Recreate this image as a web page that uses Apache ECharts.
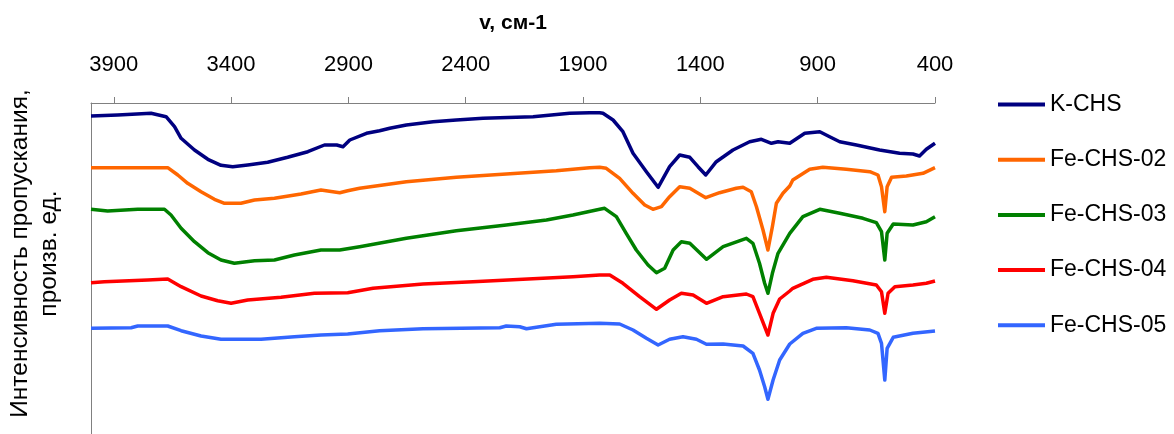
<!DOCTYPE html>
<html>
<head>
<meta charset="utf-8">
<script src="https://cdn.jsdelivr.net/npm/echarts@6/dist/echarts.min.js"></script>
<style>
  html, body { margin: 0; padding: 0; background: #fff; }
  #chart { width: 1174px; height: 434px; }
</style>
</head>
<body>
<div id="chart"></div>
<script>
// IR transmission spectra, offset vertically (arbitrary units)
const seriesNames = ['K-CHS', 'Fe-CHS-02', 'Fe-CHS-03', 'Fe-CHS-04', 'Fe-CHS-05'];
const seriesColors = ['#000080', '#FF6600', '#008000', '#FF0000', '#3366FF'];

const kchsWn = [3997, 3883, 3741, 3677, 3641, 3613, 3556, 3499, 3443, 3393, 3329, 3244, 3159, 3073, 3002, 2950, 2923, 2894, 2823, 2767, 2724, 2653, 2539, 2440, 2326, 2113, 1957, 1872, 1829, 1815, 1772, 1730, 1687, 1630, 1580, 1531, 1488, 1445, 1410, 1377, 1332, 1261, 1190, 1140, 1097, 1069, 1019, 955, 891, 849, 806, 735, 636, 551, 494, 466, 437, 400];
const kchsT = [318, 319, 320.7, 317.3, 307.3, 295.7, 284, 274.7, 268.7, 267.3, 269, 271.7, 276.7, 282.3, 289, 289, 287.3, 294, 300.7, 303.3, 305.7, 309, 312.3, 314, 315.7, 317.3, 320.7, 321.3, 321.3, 320.7, 314, 302.3, 280.7, 262.3, 246.7, 267.3, 279, 276.7, 267.3, 259, 272.3, 284, 292.3, 294.7, 290.7, 292.3, 290.7, 300.7, 302.3, 297.3, 292.3, 289, 284, 280.7, 280, 278, 284.7, 290.7];

const fe02Wn = [3997, 3670, 3627, 3585, 3528, 3471, 3428, 3358, 3300, 3215, 3102, 3017, 2937, 2903, 2852, 2653, 2440, 2227, 2014, 1872, 1829, 1801, 1744, 1687, 1637, 1602, 1566, 1531, 1488, 1445, 1377, 1318, 1247, 1218, 1183, 1161, 1133, 1112, 1093, 1076, 1048, 1019, 1006, 934, 878, 778, 678, 643, 628, 614, 604, 585, 522, 451, 400];
const fe02T = [266.3, 266.3, 259, 250.7, 242.3, 234.7, 230.7, 230.7, 234, 235.7, 240, 244, 241.3, 243.3, 245.7, 252.3, 256.7, 260, 263.3, 266.3, 266.7, 265.7, 255.7, 240.7, 229, 224.7, 227.3, 237.3, 247.3, 245.7, 236.3, 241.3, 245.7, 246.7, 242.3, 227.3, 204, 184, 207.3, 230.7, 240.7, 248, 254, 264.7, 266.7, 264.7, 262.3, 259, 247.3, 222.3, 247.3, 256.7, 258, 260.7, 266.3];

const fe03Wn = [3997, 3926, 3798, 3684, 3656, 3613, 3556, 3499, 3443, 3386, 3300, 3215, 3130, 3017, 2937, 2852, 2653, 2440, 2227, 2056, 1943, 1829, 1808, 1758, 1716, 1673, 1623, 1587, 1552, 1516, 1481, 1445, 1374, 1303, 1204, 1176, 1148, 1126, 1112, 1093, 1069, 1019, 963, 891, 806, 707, 650, 628, 614, 604, 578, 494, 437, 400];
const fe03T = [224.7, 223, 224.7, 224.7, 219, 205.7, 192.3, 181.3, 174, 170.7, 173.3, 174, 179, 184, 184, 187.3, 195.7, 203.3, 209, 214, 219, 224.7, 225.7, 217.3, 200.7, 184, 169, 161.3, 165.7, 184, 192.3, 190.7, 174.7, 187.3, 195.7, 190.7, 170.7, 150.7, 140.7, 160.7, 180.7, 200.7, 217.3, 224.7, 220.7, 215.7, 211.3, 202.3, 174, 200.7, 210, 209, 212.3, 217.3];

const fe04Wn = [3997, 3940, 3755, 3670, 3613, 3528, 3457, 3400, 3329, 3187, 3045, 2903, 2795, 2582, 2369, 2156, 1943, 1829, 1786, 1730, 1659, 1587, 1531, 1481, 1431, 1374, 1303, 1204, 1176, 1148, 1112, 1090, 1062, 1019, 1006, 921, 863, 750, 650, 628, 614, 600, 571, 494, 437, 400];
const fe04T = [151.3, 152.3, 154, 155, 147.3, 138, 133.3, 130.7, 134, 136.7, 140.7, 141.3, 145.7, 150, 152.3, 154.7, 157.3, 159, 159, 150.7, 137.3, 124.7, 134, 140.7, 139, 130.7, 137.3, 140, 137.3, 120.7, 99, 120.7, 135, 143, 145.7, 154.7, 156.7, 153.3, 149, 142.3, 120.7, 140.7, 147.3, 149, 150.7, 153];

const fe05Wn = [3997, 3826, 3798, 3670, 3613, 3528, 3443, 3272, 3130, 3017, 2903, 2767, 2582, 2255, 2227, 2170, 2141, 2014, 1829, 1744, 1687, 1630, 1580, 1531, 1474, 1417, 1374, 1303, 1218, 1176, 1148, 1126, 1112, 1090, 1062, 1019, 963, 906, 778, 678, 643, 628, 614, 604, 578, 494, 400];
const fe05T = [105.7, 106.3, 108, 108, 103.3, 98, 94.7, 94.7, 97.3, 99, 100, 103.3, 105.3, 106.3, 108, 107.3, 105.3, 109.7, 110.7, 110, 104, 95.7, 89, 94.7, 97.3, 94.7, 89.7, 90, 88, 80.7, 64, 47.3, 34.7, 54, 74, 90, 100.7, 105.7, 106.3, 104, 100.7, 90.7, 54, 85.7, 96.7, 100.7, 103];

const wnAxis = { min: 400, max: 3997, interval: 500 };

const spectra = [[kchsWn, kchsT], [fe02Wn, fe02T], [fe03Wn, fe03T], [fe04Wn, fe04T], [fe05Wn, fe05T]];

const FONT = '"Liberation Sans", Arial, sans-serif';

const chart = echarts.init(document.getElementById('chart'), null, { renderer: 'canvas' });

chart.setOption({
  animation: false,
  backgroundColor: '#ffffff',
  grid: { left: 91, right: 239, top: 103, bottom: 0, containLabel: false, outerBoundsMode: 'none' },
  legend: {
    orient: 'vertical',
    left: 993,
    top: 87.5,
    icon: 'rect',
    itemWidth: 47,
    itemHeight: 4,
    itemGap: 31.2,
    textStyle: { fontFamily: FONT, fontSize: 23, lineHeight: 24, color: '#000' },
    data: seriesNames
  },
  xAxis: {
    type: 'value',
    position: 'top',
    inverse: true,
    min: wnAxis.min,
    max: wnAxis.max,
    interval: wnAxis.interval,
    name: 'v, см-1',
    nameLocation: 'middle',
    nameGap: 69,
    nameTextStyle: { fontFamily: FONT, fontSize: 21, fontWeight: 'bold', color: '#000' },
    axisLine: { show: true, onZero: false, lineStyle: { color: '#808080', width: 1 } },
    axisTick: { show: true, inside: false, length: 6, lineStyle: { color: '#808080' } },
    axisLabel: {
      fontFamily: FONT, fontSize: 22, color: '#000', margin: 27,
      showMaxLabel: false, showMinLabel: true,
      formatter: (v) => String(Math.round(v))
    },
    splitLine: { show: false }
  },
  yAxis: {
    type: 'value',
    min: 0,
    max: 331,
    name: 'Интенсивность пропускания,\nпроизв. ед.',
    nameLocation: 'middle',
    nameRotate: 90,
    nameGap: 27,
    nameTextStyle: { fontFamily: FONT, fontSize: 24.5, lineHeight: 29, color: '#000', align: 'center', padding: [0, 0, 0, 30] },
    axisLine: { show: true, lineStyle: { color: '#808080', width: 1 } },
    axisTick: { show: false },
    axisLabel: { show: false },
    splitLine: { show: false }
  },
  series: spectra.map(([wn, t], i) => ({
    name: seriesNames[i],
    type: 'line',
    showSymbol: false,
    symbol: 'none',
    data: wn.map((w, k) => [w, t[k]]),
    lineStyle: { color: seriesColors[i], width: 3.5, join: 'round' },
    itemStyle: { color: seriesColors[i] },
    z: 10 - i
  }))
});
</script>
</body>
</html>
